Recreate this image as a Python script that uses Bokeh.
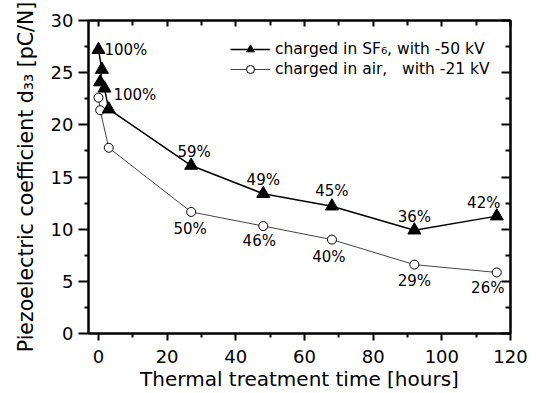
from bokeh.plotting import figure
from bokeh.models import ColumnDataSource, LinearAxis, Legend, LegendItem, FixedTicker, Range1d
from bokeh.embed import file_html
from bokeh.resources import INLINE
from bokeh.core.properties import value

# ---- data ----
time_sf6 = [0, 1, 0.5, 1.75, 3, 27, 48, 68, 92, 116]
d33_sf6 = [27.2, 25.3, 24.1, 23.5, 21.5, 16.1, 13.4, 12.2, 9.9, 11.25]
time_air = [0, 0.5, 3, 27, 48, 68, 92, 116]
d33_air = [22.6, 21.4, 17.8, 11.65, 10.3, 9.0, 6.6, 5.85]

sf6_pct_idx = [0, 5, 6, 7, 8, 9]
sf6_pct = ["100%", "59%", "49%", "45%", "36%", "42%"]
air_pct_idx = [0, 3, 4, 5, 6, 7]
air_pct = ["100%", "50%", "46%", "40%", "29%", "26%"]

x_ticks = [0, 20, 40, 60, 80, 100, 120]
x_minor = [10, 30, 50, 70, 90, 110]
y_ticks = [0, 5, 10, 15, 20, 25, 30]
y_minor = [2.5, 7.5, 12.5, 17.5, 22.5, 27.5]

# label placement (screen px offsets)
sf6_dx = [6, 3, 0, 0, 0, -13]
sf6_dy = [0, -14, -14, -15, -13, -13]
sf6_align = ["left", "center", "center", "center", "center", "center"]
air_dx = [15, -1, -4, -3, 0, -9]
air_dy = [-3, 17, 15, 17, 16, 16]
air_align = ["left", "center", "center", "center", "center", "center"]

FONT = "DejaVu Sans"

p = figure(width=536, height=393, output_backend="svg", toolbar_location=None,
           x_range=Range1d(-2.9, 120), y_range=Range1d(0, 30),
           min_border_left=88, min_border_right=26, min_border_top=20, min_border_bottom=60,
           x_axis_label="Thermal treatment time [hours]",
           y_axis_label="Piezoelectric coefficient d\u2083\u2083 [pC/N]")
p.grid.visible = False
p.outline_line_color = "black"
p.outline_line_width = 2
p.background_fill_color = "white"
p.border_fill_color = "white"

for ax in (p.xaxis[0], p.yaxis[0]):
    ax.axis_line_width = 2
    ax.major_tick_line_width = 2
    ax.minor_tick_line_width = 2
    ax.major_tick_in = 0
    ax.minor_tick_in = 0
    ax.minor_tick_out = 4
    ax.major_label_text_font = FONT
    ax.major_label_text_font_size = "18px"
    ax.axis_label_text_font = FONT
    ax.axis_label_text_font_style = "normal"
    ax.major_label_text_color = "black"
    ax.axis_label_text_color = "black"

xa = p.xaxis[0]
ya = p.yaxis[0]
xa.ticker = FixedTicker(ticks=x_ticks, minor_ticks=x_minor)
ya.ticker = FixedTicker(ticks=y_ticks, minor_ticks=y_minor)
xa.major_tick_out = 7
ya.major_tick_out = 10
xa.major_label_standoff = 9
xa.axis_label_standoff = 1
xa.axis_label_text_font_size = "20px"
ya.major_label_standoff = 5
ya.axis_label_standoff = 10
ya.axis_label_text_font_size = "20.5px"

top = LinearAxis(ticker=FixedTicker(ticks=x_ticks, minor_ticks=x_minor),
                 major_label_text_color=None, major_label_text_alpha=0,
                 major_tick_in=6, major_tick_out=0, minor_tick_in=5, minor_tick_out=0,
                 axis_line_width=2, major_tick_line_width=2, minor_tick_line_width=2,
                 major_label_standoff=0)
right = LinearAxis(ticker=FixedTicker(ticks=y_ticks, minor_ticks=y_minor),
                   major_label_text_color=None, major_label_text_alpha=0,
                   major_tick_in=9, major_tick_out=0, minor_tick_in=5, minor_tick_out=0,
                   axis_line_width=2, major_tick_line_width=2, minor_tick_line_width=2,
                   major_label_standoff=0)
p.add_layout(top, "above")
p.add_layout(right, "right")

src_sf6 = ColumnDataSource(dict(x=time_sf6, y=d33_sf6))
src_air = ColumnDataSource(dict(x=time_air, y=d33_air))

l_air = p.line("x", "y", source=src_air, line_color="#444444", line_width=1)
s_air = p.scatter("x", "y", source=src_air, marker="circle", size=9,
                  fill_color="white", line_color="black", line_width=1)
l_sf6 = p.line("x", "y", source=src_sf6, line_color="black", line_width=1.5)
s_sf6 = p.scatter("x", "y", source=src_sf6, marker="triangle", size=13,
                  fill_color="black", line_color="black")

lab_sf6 = ColumnDataSource(dict(x=[time_sf6[i] for i in sf6_pct_idx],
                                y=[d33_sf6[i] for i in sf6_pct_idx],
                                t=sf6_pct, dx=sf6_dx, dy=sf6_dy, al=sf6_align))
lab_air = ColumnDataSource(dict(x=[time_air[i] for i in air_pct_idx],
                                y=[d33_air[i] for i in air_pct_idx],
                                t=air_pct, dx=air_dx, dy=air_dy, al=air_align))
for src in (lab_sf6, lab_air):
    p.text("x", "y", text="t", source=src, x_offset="dx", y_offset="dy",
           text_align="al", text_baseline="middle", text_font=value(FONT),
           text_font_size="15px", text_color="black")

legend = Legend(items=[
    LegendItem(label="charged in SF\u2086, with -50 kV", renderers=[l_sf6, s_sf6]),
    LegendItem(label="charged in air,\u00a0\u00a0\u00a0with -21 kV", renderers=[l_air, s_air]),
], location=(142, 254), glyph_width=40, glyph_height=20, label_height=20,
    label_standoff=5, spacing=0, padding=0, margin=0,
    border_line_color=None, background_fill_alpha=0,
    label_text_font=FONT, label_text_font_size="15.5px", label_text_color="black")
p.add_layout(legend)

open("out.html", "w").write(file_html(p, INLINE))
